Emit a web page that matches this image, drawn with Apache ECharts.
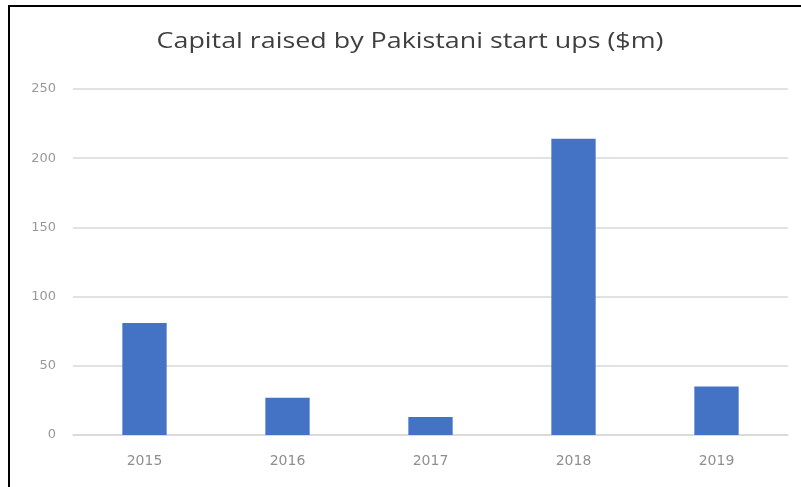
<!DOCTYPE html>
<html>
<head>
<meta charset="utf-8">
<script src="https://cdn.jsdelivr.net/npm/echarts@6/dist/echarts.min.js"></script>
<style>
  html, body { margin: 0; padding: 0; background: #fff; }
  #chart { width: 801px; height: 487px; }
</style>
</head>
<body>
<div id="chart"></div>
<script>
// Capital raised per year, in millions of US dollars
const titleText = 'Capital raised by Pakistani start ups ($m)';
const years = ['2015', '2016', '2017', '2018', '2019'];
const capitalRaised = [81, 27, 13, 214, 35];
const yTicks = [0, 50, 100, 150, 200, 250];

const chart = echarts.init(document.getElementById('chart'), null, { renderer: 'canvas' });

chart.setOption({
  animation: false,
  backgroundColor: '#ffffff',
  grid: { left: 73, right: 13, top: 89, bottom: 52 },
  xAxis: {
    type: 'category',
    data: years,
    axisTick: { show: false },
    axisLine: { lineStyle: { color: '#d9d9d9', width: 1.5 } },
    axisLabel: {
      margin: 19,
      fontFamily: 'DejaVu Sans',
      fontSize: 14,
      color: '#8f8f8f'
    }
  },
  yAxis: {
    type: 'value',
    min: yTicks[0],
    max: yTicks[yTicks.length - 1],
    interval: yTicks[1] - yTicks[0],
    axisLine: { show: false },
    axisTick: { show: false },
    axisLabel: {
      margin: 17,
      fontFamily: 'DejaVu Sans',
      fontSize: 13,
      color: '#989898'
    },
    splitLine: { lineStyle: { color: '#d9d9d9', width: 1.5 } }
  },
  series: [{
    type: 'bar',
    data: capitalRaised,
    barWidth: '31%',
    itemStyle: { color: '#4472c4' }
  }],
  graphic: [
    // chart title, drawn slightly widened
    {
      type: 'text',
      x: 410,
      y: 42,
      scaleX: 1.22,
      style: {
        text: titleText,
        x: 0,
        y: 0,
        align: 'center',
        verticalAlign: 'middle',
        font: '22px "Open Sans"',
        fill: '#3f3f3f'
      }
    },
    // frame edges on the left and top
    { type: 'rect', shape: { x: 8, y: 5, width: 2, height: 482 }, style: { fill: '#000' } },
    { type: 'rect', shape: { x: 8, y: 5, width: 793, height: 2 }, style: { fill: '#000' } }
  ]
});
</script>
</body>
</html>
